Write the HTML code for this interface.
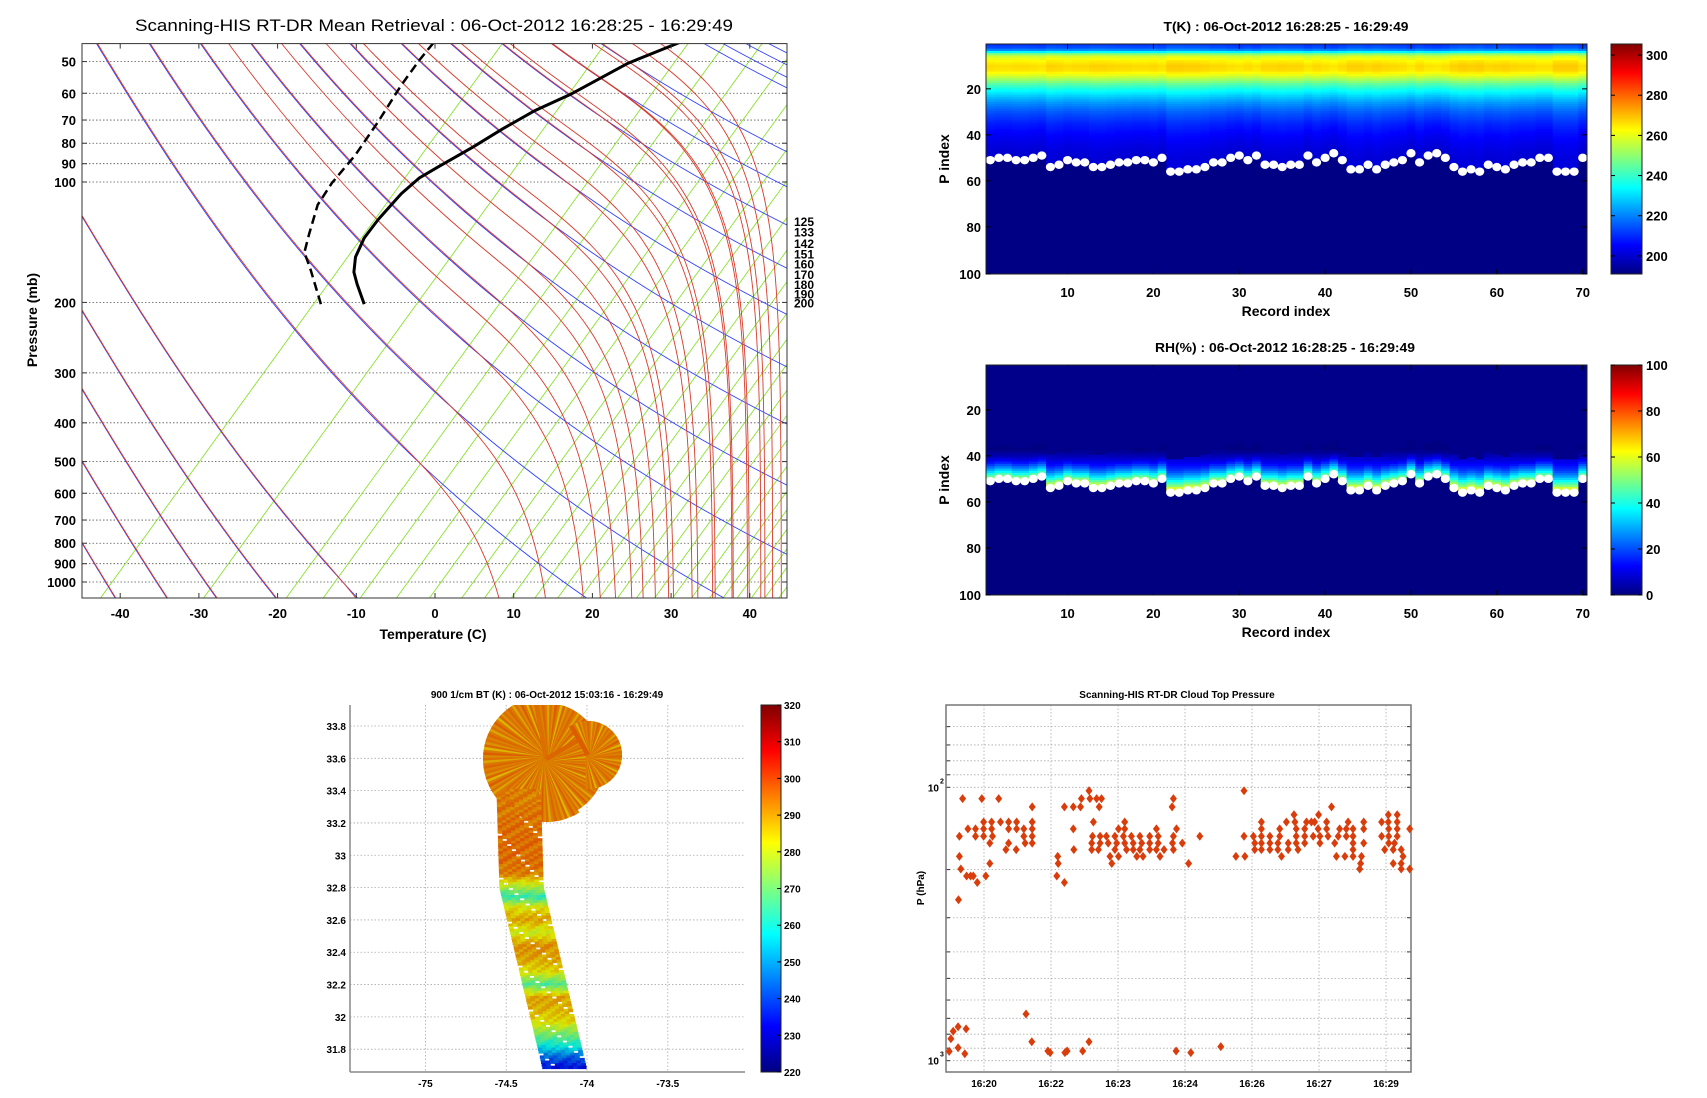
<!DOCTYPE html>
<html><head><meta charset="utf-8"><title>Scanning-HIS RT-DR</title>
<style>
html,body{margin:0;padding:0;background:#fff;}
svg{display:block;font-family:"Liberation Sans",Arial,sans-serif;}
.tk{font-size:13px;font-weight:bold;fill:#000;}
.sm{font-size:10px;font-weight:bold;fill:#000;}
</style></head>
<body>
<svg id="fig" width="1707" height="1098" viewBox="0 0 1707 1098" xmlns="http://www.w3.org/2000/svg">
<defs>
<linearGradient id="jet" x1="0" y1="1" x2="0" y2="0">
<stop offset="0" stop-color="#000080"/><stop offset="0.125" stop-color="#0000ff"/>
<stop offset="0.375" stop-color="#00ffff"/><stop offset="0.625" stop-color="#ffff00"/>
<stop offset="0.875" stop-color="#ff0000"/><stop offset="1" stop-color="#800000"/>
</linearGradient>
<clipPath id="clipSkew"><rect x="82" y="43.6" width="705" height="554.4"/></clipPath>
<clipPath id="clipMap"><rect x="350" y="705" width="395" height="367"/></clipPath>
</defs>

<g id="skew">
<text x="434" y="31" text-anchor="middle" font-size="17" textLength="598" lengthAdjust="spacingAndGlyphs">Scanning-HIS RT-DR Mean Retrieval : 06-Oct-2012 16:28:25 - 16:29:49</text>
<g id="skewGrid"></g>
<g id="skewBg" clip-path="url(#clipSkew)"></g>
<g id="skewProf" clip-path="url(#clipSkew)"></g>
<rect x="82" y="43.6" width="705" height="554.4" fill="none" stroke="#333" stroke-width="1"/>
<g id="skewTicks"></g>
<text x="433" y="639" text-anchor="middle" font-size="14" font-weight="bold">Temperature (C)</text>
<text transform="translate(37,320) rotate(-90)" text-anchor="middle" font-size="14" font-weight="bold">Pressure (mb)</text>
</g>

<g id="hmT">
<text x="1286" y="31" text-anchor="middle" font-size="13" font-weight="bold" textLength="245" lengthAdjust="spacingAndGlyphs">T(K) : 06-Oct-2012 16:28:25 - 16:29:49</text>
</g>
<g id="hmRH">
<text x="1285" y="352" text-anchor="middle" font-size="13" font-weight="bold" textLength="260" lengthAdjust="spacingAndGlyphs">RH(%) : 06-Oct-2012 16:28:25 - 16:29:49</text>
</g>

<g id="map">
<text x="547" y="698" text-anchor="middle" font-size="10" font-weight="bold">900 1/cm BT (K) : 06-Oct-2012 15:03:16 - 16:29:49</text>
</g>

<g id="ctp">
<text x="1177" y="698" text-anchor="middle" font-size="10" font-weight="bold">Scanning-HIS RT-DR Cloud Top Pressure</text>
<text transform="translate(924,888) rotate(-90)" text-anchor="middle" font-size="10" font-weight="bold">P (hPa)</text>
</g>
</svg>

<script>
var NS="http://www.w3.org/2000/svg";
function mk(tag,parent,attrs){var e=document.createElementNS(NS,tag);for(var k in attrs)e.setAttribute(k,attrs[k]);parent.appendChild(e);return e;}
function jetRGB(v){v=Math.max(0,Math.min(1,v));function c(x){return 255*Math.max(0,Math.min(1,x));}
return [c(1.5-Math.abs(4*v-3)),c(1.5-Math.abs(4*v-2)),c(1.5-Math.abs(4*v-1))];}
function jet(v){var a=jetRGB(v);return "rgb("+Math.round(a[0])+","+Math.round(a[1])+","+Math.round(a[2])+")";}
function lerpArr(xs,ys,x){if(x<=xs[0])return ys[0];for(var i=1;i<xs.length;i++){if(x<=xs[i]){var f=(x-xs[i-1])/(xs[i]-xs[i-1]);return ys[i-1]+f*(ys[i]-ys[i-1]);}}return ys[ys.length-1];}

/* ================= SKEW-T DATA ================= */
var tempP=[44.7,50.5,60.4,66.3,73.6,81.6,91.7,97.7,107,124,138,154,168,180,202];
var tempT=[31.2,24.5,17.2,12.7,8.6,4.9,0.4,-2.0,-4.3,-7.2,-9.0,-10.1,-10.3,-9.9,-9.0];
var dewP=[44.9,49.6,57.3,70.6,85.5,100.6,114,135,150,166,202];
var dewT=[-0.2,-2.0,-4.3,-7.2,-10.1,-13.1,-14.9,-16.0,-16.6,-15.8,-14.5];
var pTicks=[50,60,70,80,90,100,200,300,400,500,600,700,800,900,1000];
var tTicks=[-40,-30,-20,-10,0,10,20,30,40];
var levelLabels=[125,133,142,151,160,170,180,190,200];
var greenT=[-42.5,-29.4,-18.9,-14.2,-9.5,-4.9,-0.7,3.4,6.3,9.7,12.7,15.6,18.5,20.9,23.2,25.6,27.9,30.2,32.6,34.9,36.6,38.4,40.2,41.9,43.7,45.5,47.2,49,51,53,55,57.5,60,63,66,69,72,76,80,85,90,95,100];
var blueTopT=[-43,-36.3,-29.8,-23.4,-17.2,-10.8,-4.3,2.0,8.5,14.8,21.1,34.2,36.6,39.5,42.4];
var blueLeftP=[122,210,330,500,800];
var redBottomT=[21,25,28,30.3,33.4,35.6,37.9,39.7,41.4,42.9,44];

var SX0=82,SX1=787,SY0=43.6,SY1=598;
function xT(t){return 435+7.87*t;}
function yP(p){return 182+400*Math.log10(p/100);}

var gGrid=document.getElementById('skewGrid'),gBg=document.getElementById('skewBg'),gPr=document.getElementById('skewProf'),gTk=document.getElementById('skewTicks');
pTicks.forEach(function(p){
 var y=yP(p);
 var l=mk('line',gGrid,{x1:SX0,x2:SX1,y1:y,y2:y,stroke:'#555','stroke-width':0.8,'stroke-dasharray':'1.5,2'});
 
 
 var t=mk('text',gTk,{x:76,y:y+5,'text-anchor':'end','class':'tk'});t.textContent=p;
 
 
 mk('line',gTk,{x1:SX0,x2:SX0+5,y1:y,y2:y,stroke:'#333'});mk('line',gTk,{x1:SX1-5,x2:SX1,y1:y,y2:y,stroke:'#333'});
});
tTicks.forEach(function(tv){
 var x=xT(tv);
 var t=mk('text',gTk,{x:x,y:618,'text-anchor':'middle','class':'tk'});t.textContent=tv;
 
 
 mk('line',gTk,{x1:x,x2:x,y1:SY1,y2:SY1-5,stroke:'#333'});mk('line',gTk,{x1:x,x2:x,y1:SY0,y2:SY0+5,stroke:'#333'});
});
levelLabels.forEach(function(p){
 var t=mk('text',gTk,{x:794,y:yP(p)+5,'font-size':12,'font-weight':'bold'});t.textContent=p;
 
 
});
greenT.forEach(function(tv){
 var x0=xT(tv),y0=SY1,x1=x0+(SY1-SY0)/1.38,y1=SY0;
 var l=mk('line',gBg,{x1:x0,y1:y0,x2:x1,y2:y1,stroke:'#7fe01a','stroke-width':0.8});
 
 
});
function mslope(x){var u=Math.max(0,Math.min(1,(x-82)/705));return 0.6+1.4*Math.pow(u,1.5);}
function rfac(x,y){var q=Math.max(0,(x-420)/250+(y-350)/450);return Math.exp(-2*q*q);}
function integ(x,y,dir,moist){var pts=[[x,y]],dy=2;for(var i=0;i<400;i++){var s=mslope(x)*(moist?rfac(x,y):1);x+=dir*s*dy;y+=dir*dy;pts.push([x,y]);if(y<SY0-2||y>SY1+2||x>SX1+3||x<SX0-3)break;}return pts;}
function drawCurve(pts,col,name){var d='M'+pts.map(function(p){return p[0].toFixed(1)+','+p[1].toFixed(1);}).join('L');var e=mk('path',gBg,{d:d,fill:'none',stroke:col,'stroke-width':0.9});
 
 }
blueTopT.forEach(function(tv){drawCurve(integ(xT(tv),SY0,1,false),'#3040ff','dry-adiabat');});
blueLeftP.forEach(function(p){drawCurve(integ(SX0,yP(p),1,false),'#3040ff','dry-adiabat');});
blueTopT.forEach(function(tv){if(xT(tv)<640)drawCurve(integ(xT(tv)+1,SY0,1,true),'#d83a2a','moist-adiabat');});
blueLeftP.forEach(function(p){drawCurve(integ(SX0,yP(p)-1,1,true),'#d83a2a','moist-adiabat');});
redBottomT.forEach(function(tv){drawCurve(integ(xT(tv),SY1,-1,true),'#d83a2a','moist-adiabat');});
function profPath(ps,ts){return 'M'+ps.map(function(p,i){return xT(ts[i]).toFixed(1)+','+yP(p).toFixed(1);}).join('L');}
var tp=mk('path',gPr,{d:profPath(tempP,tempT),fill:'none',stroke:'#000','stroke-width':3});


var dp=mk('path',gPr,{d:profPath(dewP,dewT),fill:'none',stroke:'#000','stroke-width':2.5,'stroke-dasharray':'9,5'});



/* ================= HEATMAP DATA ================= */
var records=[];for(var r=1;r<=70;r++)records.push(r);
var cloudTopIdx=[51,50,50,51,51,50,49,54,53,51,52,52,54,54,53,52,52,51,51,52,50,56,56,55,55,54,52,52,50,49,51,49,53,53,54,53,53,49,52,50,48,51,55,55,53,55,53,52,51,48,52,49,48,50,54,56,55,56,53,54,55,53,52,52,50,50,56,56,56,50];
var tLevels=[1,2,3,4,5,6,8,10,12,14,16,18,20,23,26,30,35,40,45,50];
var tProfile=[212,214,220,234,250,258,264,267,266,260,252,244,237,229,222,215,209,205,202,200];
var tBelowCloud=191.5;
var rhAboveDist=[1,2,3,4,5,6,7,8,9,10,11,12,13,14];
var rhAboveVal=[56,50,42,36,30,25,20,16,12,9,7,5,3,2];
var rhBackground=1;
var xTickRec=[10,20,30,40,50,60,70];
var yTickIdx=[20,40,60,80,100];
var tCbTicks=[200,220,240,260,280,300];
var rhCbTicks=[0,20,40,60,80,100];

var HL=986,HR=1587,CW=(HR-HL)/70;
function xRec(r){return HL+(r-0.5)*CW;}
function drawHeat(gid,top,valFn,vmin,vmax,cbTicks,cbName,xlabY,xtlY){
 var g=document.getElementById(gid),bot=top+230;
 function yIdx(i){return top+(i-0.5)*2.3;}
 records.forEach(function(r,ci){
  var ct=cloudTopIdx[ci];
  for(var lev=1;lev<ct;lev++){
   var v=valFn(lev,ct);
   var c=mk('rect',g,{x:(xRec(r)-CW/2).toFixed(2),y:(yIdx(lev)-1.15).toFixed(2),width:(CW+0.4).toFixed(2),height:2.7,fill:jet((v-vmin)/(vmax-vmin))});
   
   
  }
  var v2=valFn(ct+5,ct,true);
  var c2=mk('rect',g,{x:(xRec(r)-CW/2).toFixed(2),y:(yIdx(ct)-1.15).toFixed(2),width:(CW+0.4).toFixed(2),height:(bot-yIdx(ct)+1.15).toFixed(2),fill:jet((v2-vmin)/(vmax-vmin))});
  
  
 });
 records.forEach(function(r,ci){
  var d=mk('ellipse',g,{cx:xRec(r),cy:yIdx(cloudTopIdx[ci]),rx:4.6,ry:4.2,fill:'#fff'});
  
  
 });
 var fr=mk('rect',g,{x:HL,y:top,width:HR-HL,height:230,fill:'none',stroke:'#222','stroke-width':1});
 
 
 xTickRec.forEach(function(r){var x=xRec(r);mk('line',g,{x1:x,x2:x,y1:bot,y2:bot-5,stroke:'#000'});mk('line',g,{x1:x,x2:x,y1:top,y2:top+5,stroke:'#000'});
  var t=mk('text',g,{x:x,y:xtlY,'text-anchor':'middle','class':'tk'});t.textContent=r;
  
  });
 yTickIdx.forEach(function(i){var y=yIdx(i);if(i==100)y=bot;mk('line',g,{x1:HL,x2:HL+5,y1:y,y2:y,stroke:'#000'});mk('line',g,{x1:HR-5,x2:HR,y1:y,y2:y,stroke:'#000'});
  var t=mk('text',g,{x:981,y:y+5,'text-anchor':'end','class':'tk'});t.textContent=i;
  
  });
 var xl=mk('text',g,{x:1286,y:xlabY,'text-anchor':'middle','font-size':14,'font-weight':'bold'});xl.textContent='Record index';
 
 
 var yl=mk('text',g,{transform:'translate(949,'+(top+115)+') rotate(-90)','text-anchor':'middle','font-size':14,'font-weight':'bold'});yl.textContent='P index';
 
 
 var cb=mk('rect',g,{x:1611,y:top,width:31,height:230,fill:'url(#jet)',stroke:'#222','stroke-width':1});
 
 
 cbTicks.forEach(function(v){var y=bot-(v-vmin)/(vmax-vmin)*230;
  mk('line',g,{x1:1611,x2:1615,y1:y,y2:y,stroke:'#000'});mk('line',g,{x1:1638,x2:1642,y1:y,y2:y,stroke:'#000'});
  var t=mk('text',g,{x:1646,y:y+5,'class':'tk'});t.textContent=v;
  
  });
}
drawHeat('hmT',44,function(lev,ct,below){if(below)return tBelowCloud;return lerpArr(tLevels,tProfile,lev)+(ct-52)*0.4;},191,305.5,tCbTicks,'temperature-colorbar',316,297);
drawHeat('hmRH',365,function(lev,ct,below){if(below)return 0;var d=ct-lev;if(d>14)return rhBackground;return lerpArr(rhAboveDist,rhAboveVal,d)+(ct-52)*2;},0,100,rhCbTicks,'rh-colorbar',637,618);

/* ================= MAP DATA ================= */
var bandLat=[31.68,31.75,31.82,31.9,31.97,32.04,32.12,32.2,32.28,32.36,32.44,32.52,32.6,32.68,32.74,32.8,32.88,32.96,33.05,33.15,33.25,33.35];
var bandBT=[232,242,258,272,284,288,290,266,284,290,292,280,290,282,262,276,294,296,296,296,295,294];
var crossVar=[-3,1,2,-2,3,0,-2,2,3,-1];
var trackLon=[-74.424,-74.406,-74.14];
var trackLat=[33.40,32.80,31.684];
var flowerBT=[294,296,292,297,288,295,298,293,296,290,295,297];
var lonTicks=[-75,-74.5,-74,-73.5];
var latTicks=[31.8,32,32.2,32.4,32.6,32.8,33,33.2,33.4,33.6,33.8];
var btCbTicks=[220,230,240,250,260,270,280,290,300,310,320];

function xLon(l){return 425.4+(l+75)*161.6;}
function yLat(a){return 726-(a-33.8)*161.6;}
var gm=document.getElementById('map');
var gmg=mk('g',gm,{});
lonTicks.forEach(function(l){var x=xLon(l);mk('line',gmg,{x1:x,x2:x,y1:705,y2:1072,stroke:'#aaa','stroke-width':0.8,'stroke-dasharray':'1.5,2'});
 var t=mk('text',gm,{x:x,y:1087,'text-anchor':'middle','class':'sm'});t.textContent=l;
 
 });
latTicks.forEach(function(a){var y=yLat(a);mk('line',gmg,{x1:350,x2:745,y1:y,y2:y,stroke:'#aaa','stroke-width':0.8,'stroke-dasharray':'1.5,2'});
 var t=mk('text',gm,{x:346,y:y+4,'text-anchor':'end','class':'sm'});t.textContent=a;
 
 });
var gmd=mk('g',gm,{'clip-path':'url(#clipMap)'});
function btCol(v){var a=jetRGB((v-220)/100);var k=0.86;return "rgb("+Math.round(a[0]*k)+","+Math.round(a[1]*k+10)+","+Math.round(a[2]*k)+")";}
function trackAt(a){var lon;if(a>=trackLat[1]){var f=(trackLat[0]-a)/(trackLat[0]-trackLat[1]);lon=trackLon[0]+f*(trackLon[1]-trackLon[0]);}
 else{var f2=(trackLat[1]-a)/(trackLat[1]-trackLat[2]);lon=trackLon[1]+f2*(trackLon[2]-trackLon[1]);}return lon;}
function fan(cx,cy,r,a0,a1,n){
 for(var i=0;i<n;i++){var ang=(a0+(a1-a0)*i/(n-1))*Math.PI/180;
  var v=flowerBT[i%flowerBT.length];
  var ln=mk('line',gmd,{x1:cx.toFixed(1),y1:cy.toFixed(1),x2:(cx+r*Math.cos(ang)).toFixed(1),y2:(cy-r*Math.sin(ang)).toFixed(1),stroke:btCol(v),'stroke-width':4.5});
  
  }
}
fan(546,759,63,100,300,80);
fan(546,759,56,30,100,26);
fan(546,759,60,-60,30,40);
fan(588,755,34,-90,120,55);
var row=0;
for(var a=trackLat[0];a>=trackLat[2];a-=0.016){
 var cx=xLon(trackAt(a)),cy=yLat(a),base=lerpArr(bandLat,bandBT,a);
 for(var c=0;c<10;c++){
  if((row*7+c*3)%17==0)continue;
  var v=base+crossVar[(c+row)%10];
  var cell=mk('rect',gmd,{x:(cx-22+c*4.4).toFixed(1),y:(cy-1.6).toFixed(1),width:4.8,height:3.4,fill:btCol(v)});
  
  
 }
 row++;
}
var ax1=mk('line',gm,{x1:350,x2:350,y1:705,y2:1072,stroke:'#888','stroke-width':1.5});


var ax2=mk('line',gm,{x1:350,x2:745,y1:1072,y2:1072,stroke:'#888','stroke-width':1.5});


var mcb=mk('rect',gm,{x:761,y:705,width:20,height:367,fill:'url(#jet)',stroke:'#222','stroke-width':1});


btCbTicks.forEach(function(v){var y=1072-(v-220)/100*367;mk('line',gm,{x1:777,x2:781,y1:y,y2:y,stroke:'#000'});
 var t=mk('text',gm,{x:784,y:y+4,'class':'sm'});t.textContent=v;
 
 });

/* ================= CLOUD TOP PRESSURE DATA ================= */
var ctpTime=[19.52,19.95,20.33,21.08,19.45,19.64,19.81,19.81,19.99,19.99,19.99,20.17,20.17,20.19,20.13,20.37,20.55,20.55,20.55,20.73,20.73,20.72,20.49,20.89,20.89,20.92,21.08,21.08,21.08,21.08,19.45,19.48,19.61,19.70,19.76,19.85,20.04,20.13,19.43,
22.35,22.18,22.37,22.52,22.63,22.58,21.80,22.00,22.16,22.45,22.00,22.01,21.65,21.66,21.63,21.80,22.43,22.60,22.74,22.93,23.12,23.30,23.49,23.71,23.90,22.41,22.60,22.78,22.97,23.15,23.34,23.53,23.71,23.90,22.41,22.56,22.93,23.19,23.34,23.49,23.71,23.86,24.03,23.01,23.15,23.15,23.86,22.82,22.86,23.01,23.42,23.56,23.94,24.24,24.21,24.31,24.24,24.22,24.44,24.24,24.83,24.58,
25.82,25.82,25.64,25.84,26.03,26.06,26.06,26.21,26.21,26.21,26.21,26.21,26.40,26.40,26.40,26.58,26.58,26.66,26.62,26.62,26.77,26.81,26.81,26.94,26.96,26.99,26.99,26.99,27.03,27.18,27.18,27.18,27.22,27.33,27.37,27.40,27.48,27.49,27.52,27.52,27.67,27.67,27.70,27.78,27.85,27.93,27.96,27.89,28.08,28.11,28.11,28.15,28.26,28.26,28.26,28.26,28.26,28.45,28.43,28.41,28.50,28.50,28.50,28.90,28.90,28.97,29.05,29.05,29.06,29.06,29.06,29.16,29.16,29.25,29.25,29.25,29.25,29.19,29.34,29.38,29.34,29.34,29.53,29.53,
20.94,19.42,19.31,19.60,19.26,19.42,19.22,19.57,21.07,21.43,21.48,21.81,21.86,22.21,22.35,24.30,24.63,25.30];
var ctpP=[110,110,110,118,151,142,142,151,134,142,151,134,142,151,160,134,134,142,160,134,142,169,169,142,151,160,134,142,151,160,179,199,211,211,211,223,211,190,258,
103,110,110,110,110,118,118,118,118,134,142,169,179,190,211,223,151,151,151,151,151,151,151,151,151,160,160,160,160,160,160,160,160,160,169,169,169,169,169,169,169,169,169,142,142,134,142,179,190,179,179,179,179,110,118,142,151,160,160,169,151,190,
103,151,179,179,151,160,169,134,142,151,160,169,151,160,169,160,169,179,142,151,134,160,169,126,134,142,151,160,169,142,151,160,134,134,151,134,142,126,151,160,134,142,151,118,160,151,142,179,179,142,151,134,142,151,160,169,179,179,190,199,134,142,160,134,151,169,126,134,142,151,160,169,190,126,134,142,151,160,169,179,190,199,142,199,
675,752,780,765,832,897,925,944,852,922,934,934,922,922,852,922,934,888];
var timeTicks=[20,21.5,23,24.5,26,27.5,29];
var timeLabels=['16:20','16:22','16:23','16:24','16:26','16:27','16:29'];
var pMinor=[60,70,80,90,200,300,400,500,600,700,800,900];

var CL=946,CR=1411,CT=705,CB=1072;
function xTime(t){return 984+(t-20)*44.67;}
function yCtp(p){return CT+(Math.log10(p)-Math.log10(50))*(CB-CT)/Math.log10(22);}
var gc=document.getElementById('ctp');
pMinor.concat([100,1000]).forEach(function(p){var y=yCtp(p);var l=mk('line',gc,{x1:CL,x2:CR,y1:y,y2:y,stroke:'#aaa','stroke-width':0.8,'stroke-dasharray':'1.5,2'});
 
 
 mk('line',gc,{x1:CL,x2:CL+4,y1:y,y2:y,stroke:'#333'});mk('line',gc,{x1:CR-4,x2:CR,y1:y,y2:y,stroke:'#333'});});
timeTicks.forEach(function(t,i){var x=xTime(t);mk('line',gc,{x1:x,x2:x,y1:CT,y2:CB,stroke:'#aaa','stroke-width':0.8,'stroke-dasharray':'1.5,2'});
 var tx=mk('text',gc,{x:x,y:1087,'text-anchor':'middle','class':'sm'});tx.textContent=timeLabels[i];
 
 });
[[100,'2'],[1000,'3']].forEach(function(a){var y=yCtp(a[0]);
 var t=mk('text',gc,{x:939,y:y+4,'text-anchor':'end','class':'sm'});t.textContent='10';
 
 
 var s=mk('text',gc,{x:940,y:y-4,'font-size':7,'font-weight':'bold'});s.textContent=a[1];
 
 });
var cf=mk('rect',gc,{x:CL,y:CT,width:CR-CL,height:CB-CT,fill:'none',stroke:'#777','stroke-width':1.5});


ctpTime.forEach(function(t,i){var x=xTime(t),y=yCtp(ctpP[i]);
 var d=mk('path',gc,{d:'M'+x.toFixed(1)+','+(y-4.5).toFixed(1)+'L'+(x+3.5).toFixed(1)+','+y.toFixed(1)+'L'+x.toFixed(1)+','+(y+4.5).toFixed(1)+'L'+(x-3.5).toFixed(1)+','+y.toFixed(1)+'Z',fill:'#d93d0b'});
 
 });
</script>
</body></html>
